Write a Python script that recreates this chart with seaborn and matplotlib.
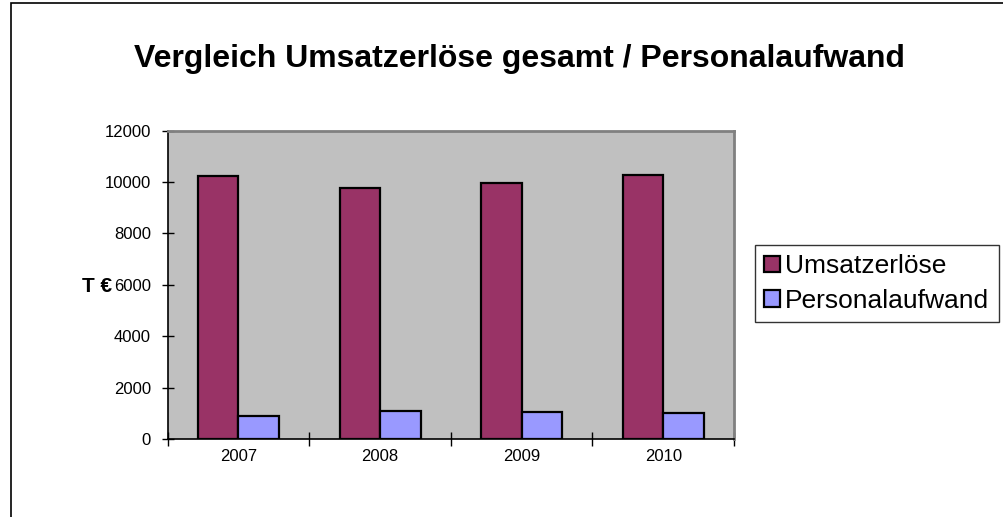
import matplotlib
matplotlib.use("Agg")
import matplotlib.pyplot as plt
import matplotlib.patches as mpatches
import seaborn as sns
import pandas as pd

years = ["2007", "2008", "2009", "2010"]
umsatz = [10230, 9770, 9960, 10280]
personal = [900, 1090, 1060, 1020]
series = ["Umsatzerlöse", "Personalaufwand"]
colors = ["#993366", "#9999FF"]
y_ticks = [0, 2000, 4000, 6000, 8000, 10000, 12000]

df = pd.DataFrame({
    "Jahr": years * 2,
    "Wert": umsatz + personal,
    "Serie": [series[0]] * len(years) + [series[1]] * len(years),
})

sns.set_style("white")
plt.rcParams["font.family"] = ["Liberation Sans", "DejaVu Sans"]
plt.rcParams["text.color"] = "black"

fig = plt.figure(figsize=(10.04, 5.17), dpi=100)
ax = fig.add_axes([167.7 / 1004, 1 - 439 / 517, (734 - 167.7) / 1004, (439 - 130.7) / 517])

sns.barplot(
    data=df,
    x="Jahr",
    y="Wert",
    hue="Serie",
    palette=colors,
    width=0.572,
    gap=0,
    edgecolor="black",
    linewidth=1.6,
    saturation=1,
    ax=ax,
)

ax.set_facecolor("#C0C0C0")
ax.set_xlim(-0.5, len(years) - 0.5)
ax.set_ylim(0, 12000)
ax.set_yticks(y_ticks)
ax.set_yticklabels([str(v) for v in y_ticks], fontsize=12)
ax.tick_params(axis="y", left=True, direction="inout", length=8, width=1,
               pad=8, color="black", labelcolor="black")

# category labels in the middle, tick marks between categories
ax.set_xticks(range(len(years)))
ax.set_xticklabels(years, fontsize=12)
ax.tick_params(axis="x", which="major", bottom=True, length=0, pad=7, labelcolor="black")
ax.set_xticks([i - 0.5 for i in range(len(years) + 1)], minor=True)
ax.tick_params(axis="x", which="minor", bottom=True, direction="inout", length=10,
               width=1, color="black")

ax.set_xlabel("")
ax.set_ylabel("")
for side in ["left", "bottom"]:
    ax.spines[side].set_color("black")
    ax.spines[side].set_linewidth(1.2)
for side in ["top", "right"]:
    ax.spines[side].set_color("#808080")
    ax.spines[side].set_linewidth(2)

ax.legend_.remove()
handles = [mpatches.Patch(facecolor=c, edgecolor="black", linewidth=1.6) for c in colors]
fig.legend(
    handles,
    series,
    loc="upper left",
    bbox_to_anchor=(755 / 1004, 1 - 245 / 517),
    fontsize=19,
    frameon=True,
    fancybox=False,
    edgecolor="black",
    handlelength=0.6,
    handleheight=0.6,
    handletextpad=0.2,
    borderpad=0.35,
    labelspacing=0.4,
    borderaxespad=0,
)
fig.legends[0].get_frame().set_linewidth(1)

fig.text(519 / 1004, 1 - 67 / 517, "Vergleich Umsatzerlöse gesamt / Personalaufwand",
         ha="center", va="baseline", fontsize=23, fontweight="bold", color="black")
fig.text(97 / 1004, 1 - 286 / 517, "T €", ha="center", va="center",
         fontsize=15, fontweight="bold", color="black")

frame = mpatches.Rectangle((11 / 1004, -0.1), 2, 1.1 - 3 / 517, transform=fig.transFigure,
                           fill=False, edgecolor="black", linewidth=1.2)
fig.patches.append(frame)

fig.savefig("out.png", dpi=100)
